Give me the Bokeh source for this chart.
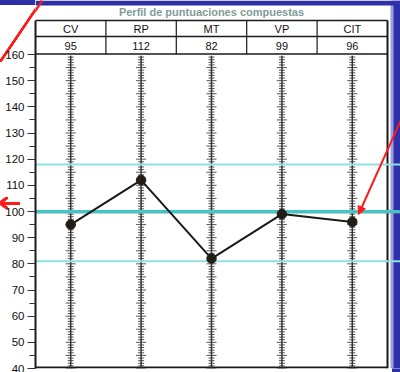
from bokeh.plotting import figure
from bokeh.models import Range1d, LinearAxis, FixedTicker, Arrow, NormalHead
from bokeh.embed import file_html
from bokeh.resources import INLINE
from bokeh.core.properties import value

# ---- data ----
title_text = "Perfil de puntuaciones compuestas"
categories = ["CV", "RP", "MT", "VP", "CIT"]
scores = [95, 112, 82, 99, 96]
band_lines = [118, 81]
mean_line = 100
y_ticks = [40, 50, 60, 70, 80, 90, 100, 110, 120, 130, 140, 150, 160]
y_minor = [45, 55, 65, 75, 85, 95, 105, 115, 125, 135, 145, 155]

# ---- geometry ----
W, H = 400, 372
LEFT = 35
PX_160, PX_40 = 54, 368
ppu_y = (PX_40 - PX_160) / 120.0
y_end = 160 + PX_160 / ppu_y
col_px = 352 / 5.0
x_end = (W - LEFT) / col_px
ncol = len(categories)
xs = [i + 0.5 for i in range(ncol)]

def sx(px):
    return (px - LEFT) / col_px

def sy(py):
    return y_end - py / ppu_y

FONT = value("Liberation Sans")
BLUE = "#2d30a8"
RED = "#ff1a1a"

p = figure(width=W, height=H, x_range=Range1d(0, x_end), y_range=Range1d(40, y_end),
           output_backend="svg", toolbar_location=None,
           x_axis_location=None, y_axis_location=None,
           min_border_left=LEFT, min_border_right=0, min_border_top=0, min_border_bottom=4)
p.xgrid.visible = False
p.ygrid.visible = False
p.outline_line_color = None
p.background_fill_color = "white"
p.border_fill_alpha = 0

# slide decorations lying outside the plotting frame (drawn as CSS backgrounds of the figure box)
def solid(c):
    return "linear-gradient(%s,%s)" % (c, c)

def stripe(direction, c, w=1.2):
    return ("linear-gradient(%s, transparent calc(50%% - %.1fpx), %s calc(50%% - %.1fpx), "
            "%s calc(50%% + %.1fpx), transparent calc(50%% + %.1fpx))" % (direction, w + 0.6, c, w, c, w, w + 0.6))

layers = [
    (solid(BLUE), "35px 5px", "0px 0px"),
    (stripe("to bottom right", RED, 1.1), "42px 62px", "0px 0px"),
    (solid(RED), "17px 3px", "3px 202px"),
    (stripe("to bottom right", RED, 1.3), "8px 6px", "0px 197px"),
    (stripe("to bottom left", RED, 1.3), "8px 6px", "0px 203px"),
    (solid(BLUE), "8px 4px", "392px 368px"),
    (solid("white"), "400px 372px", "0px 0px"),
]
p.styles = {
    "background-image": ", ".join(l[0] for l in layers),
    "background-size": ", ".join(l[1] for l in layers),
    "background-position": ", ".join(l[2] for l in layers),
    "background-repeat": "no-repeat",
}

ax = LinearAxis(ticker=FixedTicker(ticks=y_ticks, minor_ticks=y_minor), bounds=(40, sy(20)))
ax.axis_line_width = 2
ax.axis_line_color = "#1a1a1a"
ax.major_tick_out = 8
ax.major_tick_in = 0
ax.minor_tick_out = 6
ax.minor_tick_in = 0
ax.major_tick_line_color = "#333333"
ax.minor_tick_line_color = "#333333"
ax.major_label_text_font = "Liberation Sans"
ax.major_label_text_font_size = "11.5px"
ax.major_label_text_color = "#111111"
ax.major_label_standoff = 3
p.add_layout(ax, "left")

# blue slide background strips inside the frame
p.quad(left=sx(392), right=x_end, bottom=40, top=y_end, color=BLUE, line_color=None)
p.quad(left=sx(390), right=sx(393), bottom=40, top=y_end, color="#9c9ee0", line_color=None)
p.quad(left=0, right=x_end, bottom=sy(5), top=y_end, color=BLUE, line_color=None)

# title
p.text(x=[ncol / 2.0], y=[sy(11)], text=[title_text], text_align="center", text_baseline="middle",
       text_font=FONT, text_font_size="11px", text_font_style="bold", text_color="#7f9c98")

# table
t_top, t_mid, t_bot = sy(20), sy(36), sy(53.5)
p.segment(x0=[0, 0, 0], y0=[t_top, t_mid, t_bot], x1=[ncol] * 3, y1=[t_top, t_mid, t_bot],
          line_color="#1a1a1a", line_width=1.3)
p.segment(x0=list(range(1, ncol)), y0=[t_bot] * (ncol - 1), x1=list(range(1, ncol)), y1=[t_top] * (ncol - 1),
          line_color="#1a1a1a", line_width=1.2)
p.segment(x0=[ncol], y0=[40], x1=[ncol], y1=[t_top], line_color="#1a1a1a", line_width=2)
p.segment(x0=[0], y0=[sy(367)], x1=[ncol], y1=[sy(367)], line_color="#1a1a1a", line_width=2)
p.text(x=xs, y=[sy(28)] * ncol, text=categories, text_align="center", text_baseline="middle",
       text_font=FONT, text_font_size="11px", text_color="#111111")
p.text(x=xs, y=[sy(45)] * ncol, text=[str(s) for s in scores], text_align="center", text_baseline="middle",
       text_font=FONT, text_font_size="11px", text_color="#111111")

# vertical scales at each column
x0s, x1s, yss = [], [], []
for c in xs:
    for v in range(40, 160):
        hw = (5.0 if v % 5 == 0 else 3.0) / col_px
        x0s.append(c - hw)
        x1s.append(c + hw)
        yss.append(v)
p.segment(x0=x0s, y0=yss, x1=x1s, y1=yss, line_color="#555555", line_width=1)
p.segment(x0=xs, y0=[40] * ncol, x1=xs, y1=[159.5] * ncol, line_color="#333333", line_width=1.5)

# reference lines
p.segment(x0=[0] * len(band_lines), y0=band_lines, x1=[x_end] * len(band_lines), y1=band_lines,
          line_color="#8fe0e0", line_width=2)
p.segment(x0=[0], y0=[mean_line - 0.55], x1=[x_end], y1=[mean_line - 0.55], line_color="#8a9a9a", line_width=1.2)
p.segment(x0=[0], y0=[mean_line], x1=[x_end], y1=[mean_line], line_color="#3fc6c6", line_width=3)

# profile
p.line(xs, scores, line_color="#1a1a1a", line_width=2)
p.scatter(xs, scores, size=9.5, color="#221d15")

# red slide annotations inside the frame
p.add_layout(Arrow(end=None, x_start=sx(42), y_start=sy(0), x_end=sx(0), y_end=sy(62),
                   line_color=RED, line_width=2.2))
p.add_layout(Arrow(end=NormalHead(size=8, fill_color=RED, line_color=RED),
                   x_start=sx(402), y_start=sy(116), x_end=sx(358), y_end=sy(214),
                   line_color=RED, line_width=2))

open("out.html", "w").write(file_html(p, INLINE))
